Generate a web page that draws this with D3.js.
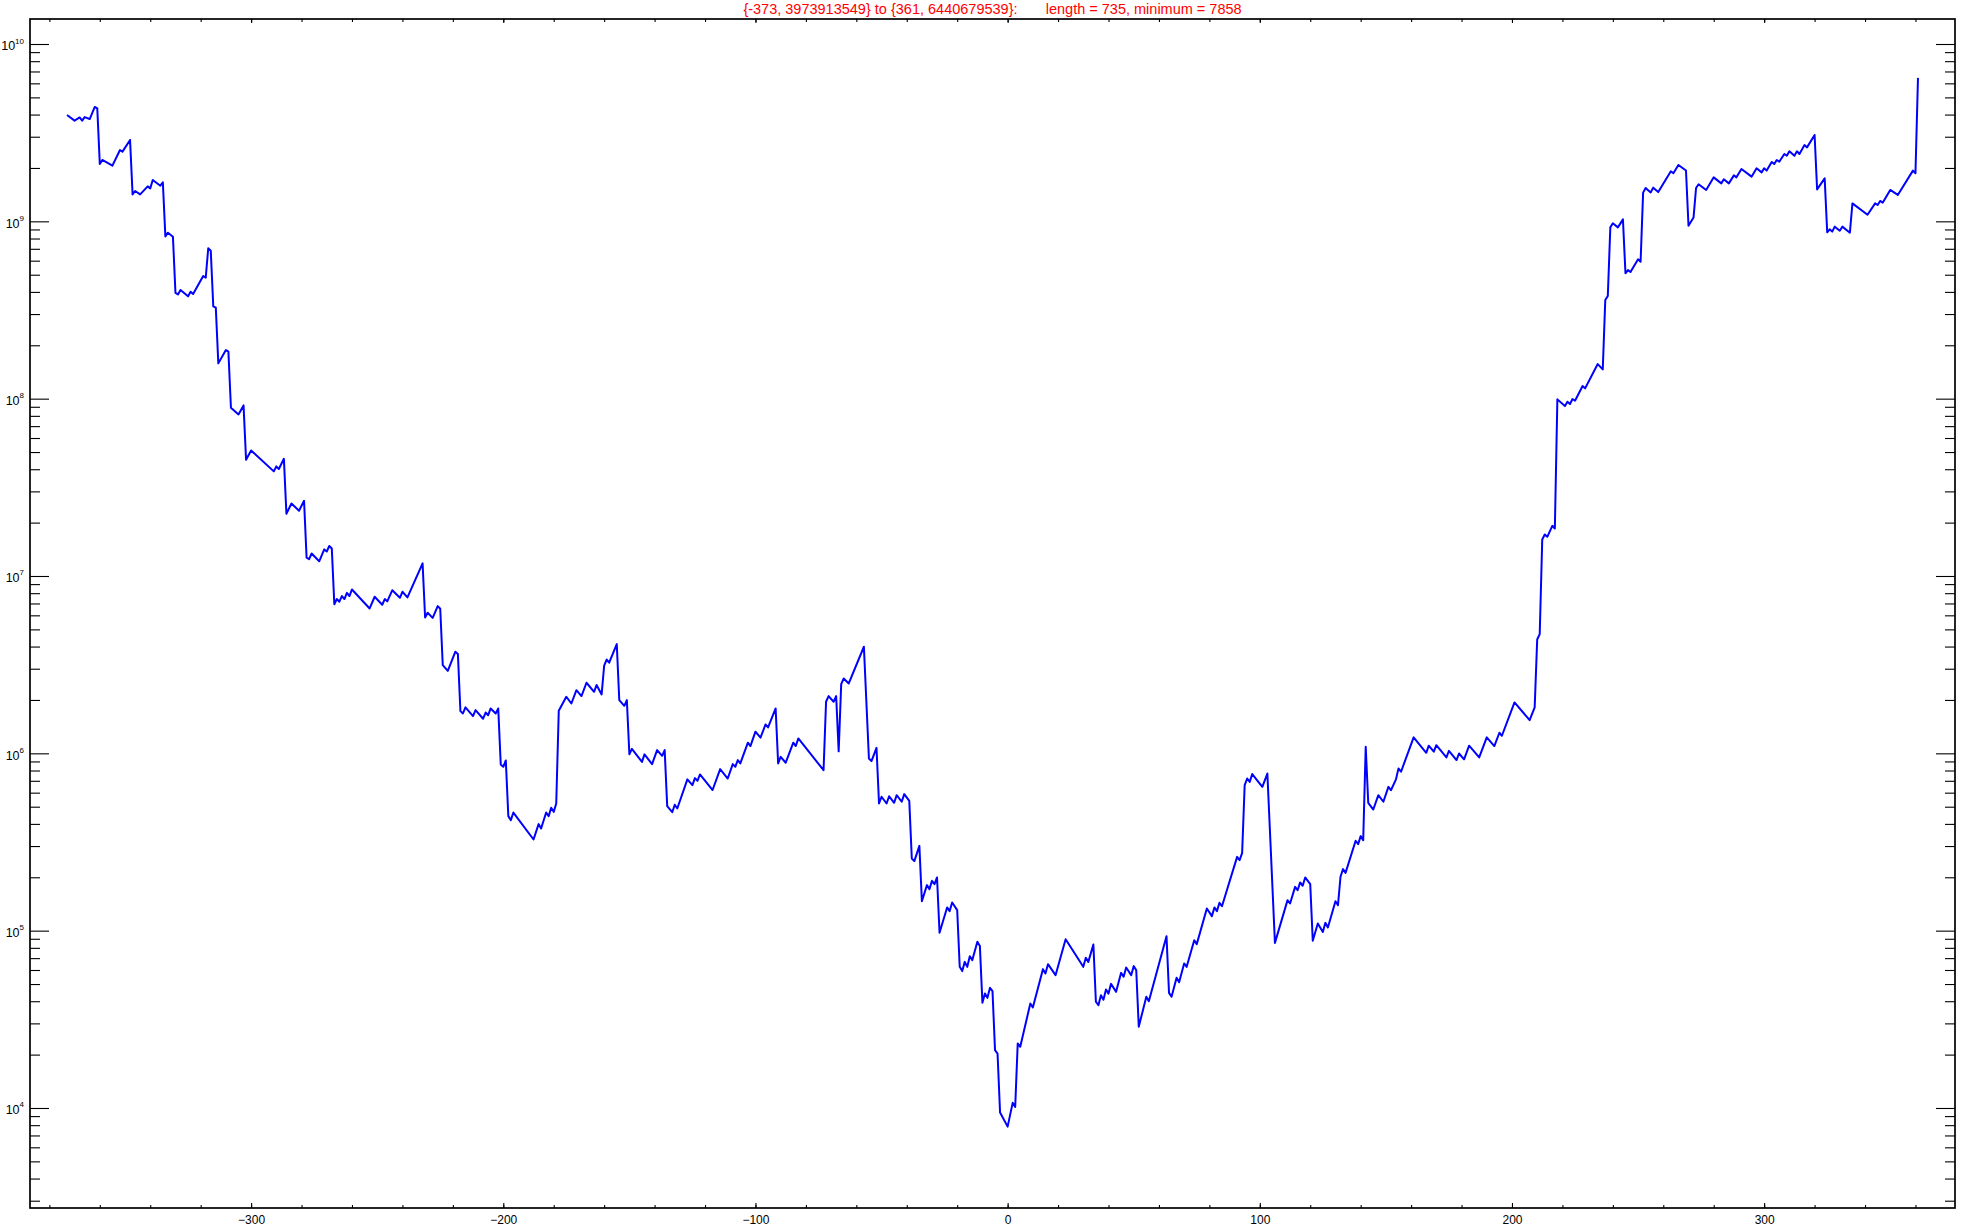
<!DOCTYPE html>
<html>
<head>
<meta charset="utf-8">
<script src="https://cdnjs.cloudflare.com/ajax/libs/d3/7.8.5/d3.min.js"></script>
<style>
  body { margin: 0; background: #ffffff; }
  svg text { font-family: "Liberation Sans", Arial, Helvetica, sans-serif; }
</style>
</head>
<body>
<script>
  //title shown above the frame
  var titleText = "{-373, 3973913549} to {361, 6440679539}:       length = 735, minimum = 7858";

  //x positions of the line's vertices
  var xValues = [
    -373,-370,-368,-367,-366,-364,-362,-361,-360,-359,
    -355,-352,-351,-348,-347,-346,-344,-341,-340,-339,
    -336,-335,-334,-333,-331,-330,-329,-328,-325,-324,
    -323,-319,-318,-317,-316,-315,-314,-313,-310,-309,
    -308,-305,-303,-302,-300,-291,-290,-289,-287,-286,
    -284,-281,-279,-278,-277,-276,-273,-271,-270,-269,
    -268,-267,-266,-265,-264,-263,-262,-261,-260,-253,
    -251,-248,-247,-246,-244,-241,-240,-238,-232,-231,
    -230,-228,-226,-225,-224,-222,-219,-218,-217,-216,
    -215,-212,-211,-208,-207,-206,-205,-203,-202,-201,
    -200,-199,-198,-197,-196,-188,-186,-185,-183,-182,
    -181,-180,-179,-178,-175,-173,-171,-169,-167,-164,
    -163,-161,-160,-159,-158,-155,-154,-152,-151,-150,
    -149,-145,-144,-141,-139,-137,-136,-135,-133,-132,
    -131,-127,-125,-124,-123,-122,-117,-114,-111,-109,
    -108,-107,-106,-103,-102,-100,-98,-96,-95,-92,
    -91,-90,-88,-85,-84,-83,-73,-72,-71,-69,
    -68,-67,-66,-65,-63,-57,-55,-54,-52,-51,
    -50,-48,-47,-45,-44,-42,-41,-39,-38,-37,
    -35,-34,-32,-31,-30,-29,-28,-27,-24,-23,
    -22,-20,-19,-18,-17,-16,-15,-14,-12,-11,
    -10,-9,-8,-7,-6,-5,-4,-3,0,2,
    3,4,5,9,10,14,15,16,19,23,
    30,31,32,34,35,36,37,38,39,40,
    41,43,45,46,47,49,50,51,52,55,
    56,63,64,65,67,68,70,71,74,75,
    79,81,82,83,84,85,91,92,93,94,
    95,96,97,101,103,106,111,112,114,115,
    116,117,118,120,121,123,125,126,127,130,
    131,132,133,134,138,139,140,141,142,143,
    145,147,149,151,152,154,155,156,161,166,
    167,169,170,174,175,178,179,181,183,187,
    190,193,195,196,201,207,209,210,211,212,
    213,214,216,217,218,221,222,223,224,225,
    228,229,234,236,237,238,239,240,242,244,
    245,246,247,250,251,252,253,255,256,258,
    263,264,266,269,270,272,273,274,277,280,
    283,284,286,288,289,291,295,297,299,300,
    301,303,304,305,306,308,309,310,312,313,
    314,316,317,320,321,324,325,326,327,328,
    330,331,334,335,341,344,345,346,347,350,
    353,359,360,361
  ];

  //values as powers of ten (value = 10^exponent), same order as xValues
  var yExponents = [
    9.600,9.568,9.586,9.568,9.588,9.577,9.645,9.637,9.323,9.346,
    9.314,9.402,9.393,9.459,9.152,9.171,9.152,9.197,9.186,9.233,
    9.201,9.220,8.915,8.936,8.913,8.597,8.588,8.613,8.577,8.603,
    8.590,8.692,8.682,8.848,8.834,8.520,8.513,8.199,8.274,8.265,
    7.949,7.911,7.962,7.656,7.708,7.590,7.618,7.603,7.661,7.351,
    7.409,7.368,7.424,7.103,7.095,7.127,7.083,7.150,7.138,7.169,
    7.155,6.841,6.870,6.855,6.887,6.870,6.905,6.887,6.924,6.817,
    6.883,6.838,6.870,6.857,6.920,6.877,6.911,6.879,7.071,6.766,
    6.793,6.764,6.830,6.815,6.497,6.465,6.573,6.560,6.238,6.225,
    6.259,6.210,6.244,6.195,6.230,6.215,6.253,6.225,6.253,5.937,
    5.924,5.960,5.646,5.623,5.666,5.514,5.601,5.576,5.666,5.646,
    5.693,5.670,5.717,6.240,6.319,6.281,6.356,6.323,6.398,6.347,
    6.385,6.332,6.494,6.529,6.511,6.616,6.300,6.268,6.300,5.995,
    6.025,5.952,5.994,5.939,6.018,5.986,6.018,5.702,5.668,5.710,
    5.689,5.853,5.821,5.860,5.845,5.881,5.793,5.911,5.858,5.939,
    5.924,5.962,5.943,6.060,6.041,6.122,6.088,6.163,6.146,6.253,
    5.943,5.980,5.947,6.060,6.041,6.084,5.905,6.291,6.323,6.291,
    6.323,6.011,6.390,6.422,6.394,6.601,5.971,5.956,6.031,5.717,
    5.755,5.717,5.758,5.721,5.764,5.727,5.770,5.732,5.407,5.392,
    5.478,5.166,5.257,5.234,5.281,5.262,5.300,4.988,5.131,5.110,
    5.159,5.116,4.796,4.772,4.824,4.796,4.856,4.834,4.937,4.913,
    4.593,4.646,4.621,4.678,4.659,4.326,4.307,3.974,3.895,4.029,
    4.006,4.364,4.345,4.589,4.567,4.783,4.758,4.811,4.749,4.952,
    4.796,4.847,4.824,4.922,4.599,4.580,4.636,4.610,4.668,4.645,
    4.700,4.655,4.762,4.740,4.792,4.749,4.800,4.777,4.458,4.627,
    4.602,4.969,4.649,4.627,4.734,4.709,4.815,4.796,4.946,4.924,
    5.125,5.082,5.131,5.110,5.157,5.138,5.416,5.398,5.439,5.821,
    5.858,5.839,5.883,5.811,5.886,4.931,5.172,5.153,5.247,5.228,
    5.272,5.253,5.300,5.262,4.943,5.040,4.993,5.044,5.018,5.166,
    5.144,5.304,5.347,5.326,5.507,5.488,5.533,5.510,6.037,5.721,
    5.683,5.764,5.727,5.811,5.792,5.853,5.915,5.896,6.090,6.003,
    6.043,6.009,6.046,5.977,6.014,5.962,5.999,5.966,6.043,5.977,
    6.090,6.041,6.116,6.099,6.287,6.187,6.259,6.642,6.672,7.206,
    7.234,7.221,7.283,7.268,7.996,7.958,7.983,7.970,7.998,7.988,
    8.071,8.058,8.195,8.165,8.556,8.579,8.966,8.989,8.966,9.011,
    8.707,8.725,8.714,8.786,8.772,9.162,9.188,9.163,9.190,9.165,
    9.282,9.271,9.318,9.287,8.975,9.022,9.188,9.209,9.177,9.248,
    9.214,9.237,9.214,9.259,9.248,9.295,9.252,9.299,9.276,9.299,
    9.286,9.335,9.323,9.346,9.336,9.380,9.370,9.395,9.370,9.395,
    9.380,9.430,9.417,9.487,9.180,9.242,8.938,8.955,8.942,8.970,
    8.947,8.970,8.936,9.101,9.037,9.101,9.092,9.115,9.105,9.177,
    9.149,9.286,9.271,9.809
  ];

  //tick values
  var xMajorTicks = [-300, -200, -100, 0, 100, 200, 300];
  var xMinorTicks = d3.range(-380, 376, 20);
  var yDecades = [4, 5, 6, 7, 8, 9, 10];
  var yMinorFactors = [2, 3, 4, 5, 6, 7, 8, 9];

  initialize();

  function initialize(){
    setChart();
  };

  function setChart(){

    //page dimensions
    var width = 1961;
    var height = 1228;

    //frame edges
    var left = 30, right = 1955, top = 19, bottom = 1208;

    var svg = d3.select("body")
                .append("svg")
                .attr("width", width)
                .attr("height", height);

    svg.append("rect")
       .attr("width", width)
       .attr("height", height)
       .attr("fill", "#ffffff");

    //join x and value
    var points = xValues.map(function(d, i) {
      return { x: d, value: Math.pow(10, yExponents[i]) };
    });

    //2% padding around the data on x
    var xExtent = d3.extent(xValues);
    var pad = (xExtent[1] - xExtent[0]) * 0.02;
    var x = d3.scaleLinear()
              .domain([xExtent[0] - pad, xExtent[1] + pad])
              .range([left, right]);

    var y = d3.scaleLog()
              .domain([Math.pow(10, 3.436), Math.pow(10, 10.141)])
              .range([bottom, top]);

    //minor log ticks that fall inside the frame
    var yMinorTicks = [];
    for (var n = 3; n <= 10; n++) {
      yMinorFactors.forEach(function(k) {
        var v = k * Math.pow(10, n);
        if (v > y.domain()[0] && v < y.domain()[1]) yMinorTicks.push(v);
      });
    };
    var yMajorTicks = yDecades.map(function(e) { return Math.pow(10, e); });

    //bottom axis: minor ticks, then major ticks with labels
    svg.append("g")
       .attr("class", "axis")
       .attr("transform", "translate(0," + bottom + ")")
       .call(d3.axisBottom(x).tickValues(xMinorTicks).tickSizeInner(-3).tickSizeOuter(0).tickFormat(""));

    var xAxis = svg.append("g")
       .attr("class", "axis")
       .attr("transform", "translate(0," + bottom + ")")
       .call(d3.axisBottom(x).tickValues(xMajorTicks).tickSizeInner(-5).tickSizeOuter(0).tickPadding(7.5)
             .tickFormat(function(d) { return d < 0 ? "\u2212" + (-d) : d; }));
    xAxis.selectAll("text").style("font-size", "12px");

    //top axis, ticks only
    svg.append("g")
       .attr("class", "axis")
       .attr("transform", "translate(0," + top + ")")
       .call(d3.axisTop(x).tickValues(xMinorTicks).tickSizeInner(-3).tickSizeOuter(0).tickFormat(""));
    svg.append("g")
       .attr("class", "axis")
       .attr("transform", "translate(0," + top + ")")
       .call(d3.axisTop(x).tickValues(xMajorTicks).tickSizeInner(-4).tickSizeOuter(0).tickFormat(""));

    //left axis
    svg.append("g")
       .attr("class", "axis")
       .attr("transform", "translate(" + left + ",0)")
       .call(d3.axisLeft(y).tickValues(yMinorTicks).tickSizeInner(-10).tickSizeOuter(0).tickFormat(""));

    var yAxis = svg.append("g")
       .attr("class", "axis")
       .attr("transform", "translate(" + left + ",0)")
       .call(d3.axisLeft(y).tickValues(yMajorTicks).tickSizeInner(-19).tickSizeOuter(0).tickPadding(6).tickFormat(""));

    //labels as 10 with a superscript power
    yAxis.selectAll(".tick text")
         .attr("dy", "5.7px")
         .style("font-size", "12.5px")
         .each(function(d) {
           var t = d3.select(this);
           t.append("tspan").text("10");
           t.append("tspan")
            .attr("dy", "-6.7px")
            .style("font-size", "8px")
            .text(Math.round(Math.log10(d)));
         });

    //right axis, ticks only
    svg.append("g")
       .attr("class", "axis")
       .attr("transform", "translate(" + right + ",0)")
       .call(d3.axisRight(y).tickValues(yMinorTicks).tickSizeInner(-10).tickSizeOuter(0).tickFormat(""));
    svg.append("g")
       .attr("class", "axis")
       .attr("transform", "translate(" + right + ",0)")
       .call(d3.axisRight(y).tickValues(yMajorTicks).tickSizeInner(-19).tickSizeOuter(0).tickFormat(""));

    svg.selectAll(".axis .domain").remove();
    svg.selectAll(".axis .tick line").attr("stroke", "#000").attr("stroke-width", 1.1);
    svg.selectAll(".axis text").attr("fill", "#000");

    //frame
    svg.append("rect")
       .attr("x", left)
       .attr("y", top)
       .attr("width", right - left)
       .attr("height", bottom - top)
       .attr("fill", "none")
       .attr("stroke", "#000")
       .attr("stroke-width", 1.7);

    //data line
    var line = d3.line()
                 .x(function(d) { return x(d.x); })
                 .y(function(d) { return y(d.value); });

    svg.append("path")
       .datum(points)
       .attr("d", line)
       .attr("fill", "none")
       .attr("stroke", "#0000ff")
       .attr("stroke-width", 2)
       .attr("stroke-linejoin", "round");

    //title
    svg.append("text")
       .attr("x", (left + right) / 2)
       .attr("y", 13.5)
       .attr("text-anchor", "middle")
       .attr("xml:space", "preserve")
       .style("white-space", "pre")
       .style("font-size", "14.5px")
       .attr("fill", "#ff0000")
       .text(titleText);
  };
</script>
</body>
</html>
